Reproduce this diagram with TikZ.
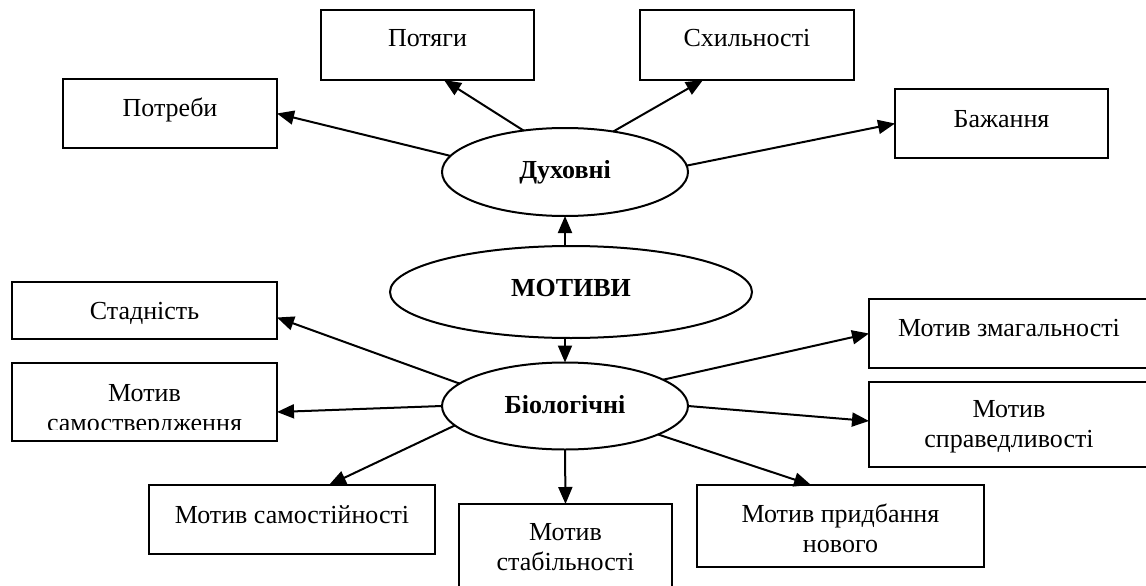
\documentclass[tikz,border=0pt]{standalone}
\usepackage{fontspec}
\setmainfont{Liberation Serif}
\usetikzlibrary{arrows.meta,shapes.geometric,calc}
\begin{document}
\begin{tikzpicture}[x=1pt,y=-1pt,
  every node/.style={inner sep=0pt,outer sep=0pt},
  box/.style={draw,line width=2pt,rectangle},
  oval/.style={draw,line width=2pt,ellipse},
  lbl/.style={font=\fontsize{26}{30}\selectfont,align=center,anchor=base},
  blbl/.style={font=\fontsize{26}{30}\selectfont\bfseries,align=center,anchor=base},
  arr/.style={line width=2pt,-{Triangle[length=17pt,width=14pt]}}]
\useasboundingbox (0,0) rectangle (1146,586);
\clip (0,0) rectangle (1146,586);
\fill[white] (0,0) rectangle (1146,586);

% boxes
\node[box,minimum width=214pt,minimum height=69pt] (potreby) at (170,113.5) {};
\node[box,minimum width=213pt,minimum height=70pt] (potyagy) at (427.5,45) {};
\node[box,minimum width=214pt,minimum height=70pt] (skhyl) at (747,45) {};
\node[box,minimum width=213pt,minimum height=69pt] (bazh) at (1001.5,123.5) {};
\node[box,minimum width=265pt,minimum height=57pt] (stad) at (144.5,310.5) {};
\node[box,minimum width=265pt,minimum height=78pt] (samostv) at (144.5,402) {};
\node[box,minimum width=286pt,minimum height=69pt] (samost) at (292,519.5) {};
\node[box,minimum width=213pt,minimum height=96pt] (stab) at (565.5,552) {};
\node[box,minimum width=281pt,minimum height=69pt] (zmag) at (1009.5,333.5) {};
\node[box,minimum width=281pt,minimum height=85pt] (sprav) at (1009.5,424.5) {};
\node[box,minimum width=287pt,minimum height=82pt] (prydb) at (840.5,526) {};

% ellipses
\node[oval,minimum width=246pt,minimum height=88pt] (duh) at (565,172) {};
\node[oval,minimum width=362pt,minimum height=92pt] (mot) at (571,292) {};
\node[oval,minimum width=246pt,minimum height=87pt] (bio) at (565,406) {};

% labels
\node[lbl] (potreby-t) at (170,116) {Потреби};
\node[lbl] (potyagy-t) at (427.5,47) {Потяги};
\node[lbl] (skhyl-t) at (747,47) {Схильності};
\node[lbl] (bazh-t) at (1001.5,127) {Бажання};
\node[blbl] (duh-t) at (565,178) {Духовні};
\node[blbl] (mot-t) at (571,296) {МОТИВИ};
\node[blbl] (bio-t) at (565,413) {Біологічні};
\node[lbl] (stad-t) at (144.5,319) {Стадність};
\begin{scope}
\clip (12,363) rectangle (277,429);
\node[lbl] (samostv-t) at (144.5,431) {Мотив\\самоствердження};
\end{scope}
\node[lbl] (samost-t) at (292,523) {Мотив самостійності};
\node[lbl] (stab-t) at (565.5,570) {Мотив\\стабільності};
\node[lbl] (zmag-t) at (1009,336) {Мотив змагальності};
\node[lbl] (sprav-t) at (1009,447) {Мотив\\справедливості};
\node[lbl] (prydb-t) at (840.5,552) {Мотив придбання\\нового};

% connectors
\draw[arr] (duh.172.6) -- (potreby.east);
\draw[arr] (duh.135) -- ($(potyagy.south)+(16.5,0)$);
\draw[arr] (duh.40.4) -- ($(skhyl.south)+(-44,0)$);
\draw[arr] (duh.3.75) -- (bazh.west);
\draw[arr] (duh.south |- mot.north) -- (duh.south);
\draw[arr] (bio.north |- mot.south) -- (bio.north);
\draw[arr] (bio.168.5) -- ($(stad.east)+(0,7)$);
\draw[arr] (bio.west) -- ($(samostv.east)+(0,10)$);
\draw[arr] (bio.190.5) -- ($(samost.north)+(37,0)$);
\draw[arr] (bio.south) -- (stab.north);
\draw[arr] (bio.15.6) -- (zmag.west);
\draw[arr] (bio.east) -- ($(sprav.west)+(0,-3.5)$);
\draw[arr] (bio.-17.5) -- ($(prydb.north)+(-29.5,0)$);
\end{tikzpicture}
\end{document}
